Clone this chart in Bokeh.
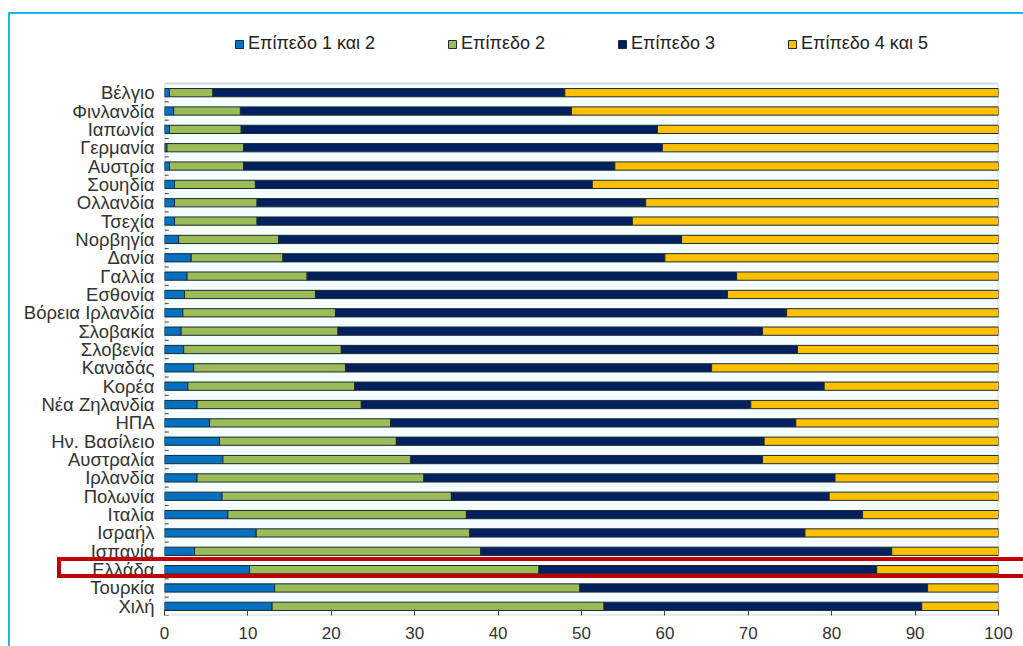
from bokeh.plotting import figure
from bokeh.models import (ColumnDataSource, Range1d, Legend, LegendItem, FixedTicker,
                          BoxAnnotation)
from bokeh.embed import file_html
from bokeh.resources import INLINE

countries = ["Βέλγιο", "Φινλανδία", "Ιαπωνία", "Γερμανία", "Αυστρία", "Σουηδία",
             "Ολλανδία", "Τσεχία", "Νορβηγία", "Δανία", "Γαλλία", "Εσθονία",
             "Βόρεια Ιρλανδία", "Σλοβακία", "Σλοβενία", "Καναδάς", "Κορέα",
             "Νέα Ζηλανδία", "ΗΠΑ", "Ην. Βασίλειο", "Αυστραλία", "Ιρλανδία",
             "Πολωνία", "Ιταλία", "Ισραήλ", "Ισπανία", "Ελλάδα", "Τουρκία", "Χιλή"]

level_1_2 = [0.6, 1.1, 0.6, 0.3, 0.6, 1.2, 1.2, 1.2, 1.7, 3.2, 2.7, 2.4, 2.2, 2.0, 2.3,
             3.5, 2.8, 3.9, 5.4, 6.6, 7.0, 3.9, 6.9, 7.6, 11.0, 3.6, 10.2, 13.2, 12.9]
level_2 = [5.2, 8.0, 8.6, 9.2, 8.9, 9.7, 9.9, 9.9, 12.0, 11.0, 14.4, 15.7, 18.3, 18.8, 18.9,
           18.2, 20.0, 19.7, 21.7, 21.2, 22.5, 27.2, 27.5, 28.6, 25.6, 34.3, 34.7, 36.6, 39.8]
level_3 = [42.2, 39.7, 49.9, 50.2, 44.5, 40.4, 46.6, 45.0, 48.3, 45.8, 51.5, 49.4, 54.1, 50.9, 54.7,
           43.9, 56.3, 46.7, 48.6, 44.1, 42.2, 49.3, 45.3, 47.5, 40.2, 49.3, 40.5, 41.7, 38.1]
level_4_5 = [52.0, 51.2, 40.9, 40.3, 46.0, 48.7, 42.3, 43.9, 38.0, 40.0, 31.4, 32.5, 25.4, 28.3, 24.1,
             34.4, 20.9, 29.7, 24.3, 28.1, 28.3, 19.6, 20.3, 16.3, 23.2, 12.8, 14.6, 8.5, 9.2]

series_names = ["Επίπεδο 1 και 2", "Επίπεδο 2", "Επίπεδο 3", "Επίπεδο 4 και 5"]
series_colors = ["#0070C0", "#9BBB59", "#002060", "#FFC000"]
x_ticks = [0, 10, 20, 30, 40, 50, 60, 70, 80, 90, 100]

n = len(countries)
ypos = [n - 1 - i + 0.5 for i in range(n)]          # row centres, first country on top
keys = ["l12", "l2", "l3", "l45"]
source = ColumnDataSource(dict(country=countries, y=ypos, l12=level_1_2, l2=level_2,
                               l3=level_3, l45=level_4_5,
                               zero=[0] * n, tick=[0.5] * n,
                               yb=[v - 0.5 for v in ypos]))

W, H = 1023, 646
BOTTOM = 31
PLOT_TOP_PX = 83                       # top edge of the grey plot box
frame_h = H - BOTTOM
ROW_PX = (frame_h - PLOT_TOP_PX) / n
p = figure(width=W, height=H, output_backend="svg", toolbar_location=None,
           x_range=Range1d(0, 100), y_range=Range1d(0, frame_h / ROW_PX),
           min_border_left=164, min_border_right=25, min_border_top=0, min_border_bottom=BOTTOM)

p.background_fill_color = "white"
p.border_fill_color = "white"
p.outline_line_color = None
p.xgrid.grid_line_color = None
p.ygrid.grid_line_color = None

# plot area (light background with grey outline), below the bars
p.add_layout(BoxAnnotation(left=0, right=100, bottom=0, top=n, level="underlay",
                           fill_color="#F4FEFE", fill_alpha=1,
                           line_color="#808080", line_width=2))

renderers = p.hbar_stack(keys, y="y", height=0.45, source=source,
                         fill_color=series_colors, line_color="#1E2A2E", line_width=1)

# category-boundary ticks on the y axis (inside the plot area)
p.segment(x0="zero", x1="tick", y0="yb", y1="yb", source=source,
          line_color="#404040", line_width=1)

# axes
p.xaxis.ticker = FixedTicker(ticks=x_ticks)
p.xaxis.major_tick_in = 6
p.xaxis.major_tick_out = 0
p.xaxis.major_tick_line_color = "#404040"
p.xaxis.minor_tick_line_color = None
p.xaxis.axis_line_color = None
p.xaxis.major_label_standoff = 11
p.xaxis.major_label_text_font = "Liberation Sans"
p.xaxis.major_label_text_font_size = "17px"
p.xaxis.major_label_text_color = "#333333"

p.yaxis.ticker = FixedTicker(ticks=ypos)
p.yaxis.major_label_overrides = {y: c for y, c in zip(ypos, countries)}
p.yaxis.major_tick_line_color = None
p.yaxis.major_tick_out = 0
p.yaxis.major_tick_in = 0
p.yaxis.minor_tick_line_color = None
p.yaxis.axis_line_color = None
p.yaxis.major_label_standoff = 10
p.yaxis.major_label_text_font = "Liberation Sans"
p.yaxis.major_label_text_font_size = "18.5px"
p.yaxis.major_label_text_color = "#333333"

# legend at the top of the frame
legend = Legend(items=[LegendItem(label=s, renderers=[r]) for s, r in zip(series_names, renderers)],
                orientation="horizontal", location=(70, frame_h - 54),
                glyph_width=10, glyph_height=10, label_standoff=4, spacing=72,
                padding=0, margin=0, border_line_alpha=0, background_fill_alpha=0,
                label_text_font="Liberation Sans", label_text_font_size="18px",
                label_text_color="#222222", label_height=20)
p.add_layout(legend, "center")

# cyan outer frame and red highlight box around Greece (drawn over the canvas)
p.stylesheets = ["""
:host { position: relative; }
:host::before { content: ""; position: absolute; left: 8px; top: 12px; right: 0; bottom: 0;
  border-left: 2.5px solid #1CB4F0; border-top: 2.5px solid #1CB4F0;
  pointer-events: none; z-index: 10; }
:host::after { content: ""; position: absolute; left: 57px; top: 557px; width: 966px; height: 21px;
  box-sizing: border-box; border: 4px solid #C00000; border-right: none;
  pointer-events: none; z-index: 11; }
"""]

open("out.html", "w").write(file_html(p, INLINE))
